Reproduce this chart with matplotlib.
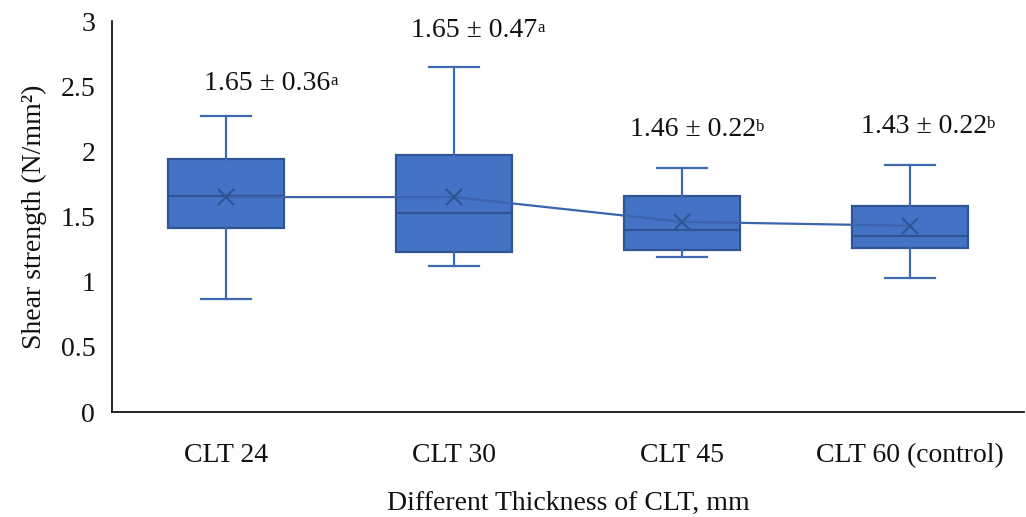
import matplotlib
matplotlib.use("Agg")
import matplotlib.pyplot as plt

categories = ["CLT 24", "CLT 30", "CLT 45", "CLT 60 (control)"]
whisker_low = [0.87, 1.12, 1.19, 1.03]
q1 = [1.41, 1.23, 1.24, 1.26]
medians = [1.66, 1.53, 1.40, 1.35]
q3 = [1.94, 1.97, 1.66, 1.58]
whisker_high = [2.27, 2.65, 1.87, 1.90]
means = [1.65, 1.65, 1.46, 1.43]
sds = [0.36, 0.47, 0.22, 0.22]
letters = ["a", "a", "b", "b"]

plt.rcParams["font.family"] = ["Liberation Serif", "DejaVu Serif"]

fig = plt.figure(figsize=(10.26, 5.17), dpi=100)
ax = fig.add_axes([0.109, 0.203, 0.889, 0.756])

fill = "#4472C4"
edge = "#2F5597"
wcol = "#4169B0"
fs = 20

stats = []
for i in range(len(categories)):
    stats.append(dict(med=medians[i], q1=q1[i], q3=q3[i],
                      whislo=whisker_low[i], whishi=whisker_high[i],
                      mean=means[i], fliers=[], label=categories[i]))

pos = list(range(len(categories)))
ax.bxp(stats, positions=pos, widths=0.51, patch_artist=True, showmeans=False,
       boxprops=dict(facecolor=fill, edgecolor=edge, linewidth=1.6),
       medianprops=dict(color=edge, linewidth=1.6),
       whiskerprops=dict(color=wcol, linewidth=1.6),
       capprops=dict(color=wcol, linewidth=1.6), capwidths=0.22)

ax.plot(pos, means, color="#3B64AD", linewidth=1.6, zorder=3)
ax.plot(pos, means, linestyle="none", marker="x", markersize=12,
        markeredgewidth=1.6, color=edge, zorder=4)

# annotations (mean ± sd with superscript letter)
label_x = [0.18, 0.09, 0.05, 0.06]
label_y = [2.52, 2.93, 2.17, 2.19]
for i in range(len(categories)):
    t = ax.text(pos[i] + label_x[i], label_y[i], f"{means[i]:.2f} ± {sds[i]:.2f}",
                fontsize=fs, ha="center", va="center", color="#111111")
    ax.annotate(letters[i], xy=(1.0, 0.92), xycoords=t, fontsize=12,
                ha="left", va="top", color="#111111")

ax.set_xlim(-0.5, len(categories) - 0.5)
ax.set_ylim(0, 3)
ax.set_yticks([0, 0.5, 1, 1.5, 2, 2.5, 3])
ax.set_yticklabels(["0", "0.5", "1", "1.5", "2", "2.5", "3"])
ax.set_xticks(pos)
ax.set_xticklabels(categories)
ax.tick_params(axis="y", length=0, pad=12, labelsize=fs, colors="#111111")
ax.tick_params(axis="x", length=0, pad=22, labelsize=fs, colors="#111111")

for s in ["top", "right"]:
    ax.spines[s].set_visible(False)
for s in ["left", "bottom"]:
    ax.spines[s].set_color("#000000")
    ax.spines[s].set_linewidth(1.2)

ax.set_xlabel("Different Thickness of CLT, mm", fontsize=fs, labelpad=17, color="#111111")
ax.set_ylabel("Shear strength (N/mm²)", fontsize=fs, labelpad=10, color="#111111")

fig.savefig("out.png", dpi=100)
